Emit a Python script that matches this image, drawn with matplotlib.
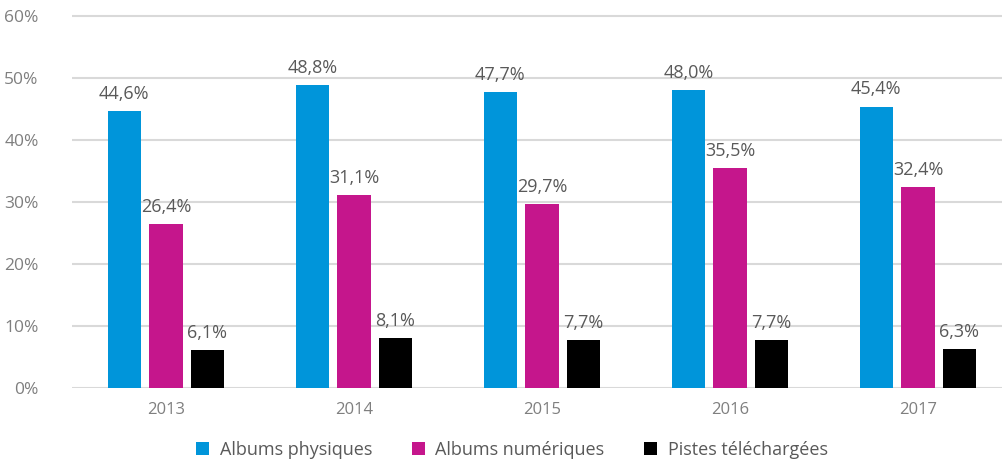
import matplotlib
matplotlib.use("Agg")
import matplotlib.pyplot as plt
from matplotlib.patches import Patch
import numpy as np

years = ["2013", "2014", "2015", "2016", "2017"]
series_names = ["Albums physiques", "Albums numériques", "Pistes téléchargées"]
physiques = [44.6, 48.8, 47.7, 48.0, 45.4]
numeriques = [26.4, 31.1, 29.7, 35.5, 32.4]
pistes = [6.1, 8.1, 7.7, 7.7, 6.3]
colors = ["#0095DA", "#C5168C", "#000000"]
yticks = [0, 10, 20, 30, 40, 50, 60]

plt.rcParams['font.family'] = ['Open Sans', 'DejaVu Sans']

W, H = 1003, 462
fig = plt.figure(figsize=(W / 100, H / 100), dpi=100)
left_px, right_px = 72, 1003
bottom_px, top_px = 388, 16 - 6.2
ax = fig.add_axes([left_px / W, (H - bottom_px) / H, (right_px - left_px) / W, (bottom_px - top_px) / H])

x = np.arange(len(years))
bw = 0.176
offsets = [-0.222, 0.0, 0.22]
for vals, off, col in zip([physiques, numeriques, pistes], offsets, colors):
    bars = ax.bar(x + off, vals, width=bw, color=col, zorder=3)
    for b, v in zip(bars, vals):
        ax.text(b.get_x() + b.get_width() / 2, v + 1.3, f"{v:.1f}%".replace(".", ","),
                ha="center", va="bottom", fontsize=13, color="#595959")

ax.set_xlim(-0.5, -0.5 + (right_px - left_px) / 188)
ax.set_ylim(0, 61)
ax.set_yticks(yticks)
ax.set_yticklabels([f"{t}%" for t in yticks], fontsize=12.5, color="#7f7f7f")
ax.set_xticks(x)
ax.set_xticklabels(years, fontsize=12, color="#7f7f7f")
ax.tick_params(axis="y", length=0, pad=24)
ax.tick_params(axis="x", length=0, pad=10)
ax.grid(axis="y", color="#d9d9d9", linewidth=1.5, zorder=0)
for s in ax.spines.values():
    s.set_visible(False)

handles = [Patch(facecolor=c, edgecolor="none") for c in colors]
fig.legend(handles, series_names, loc="center", bbox_to_anchor=(512 / W, (H - 450) / H),
           ncol=3, frameon=False, fontsize=13, handlelength=0.7, handleheight=0.7,
           handletextpad=0.6, columnspacing=2.2, labelcolor="#595959")

fig.savefig("out.png", dpi=100)
